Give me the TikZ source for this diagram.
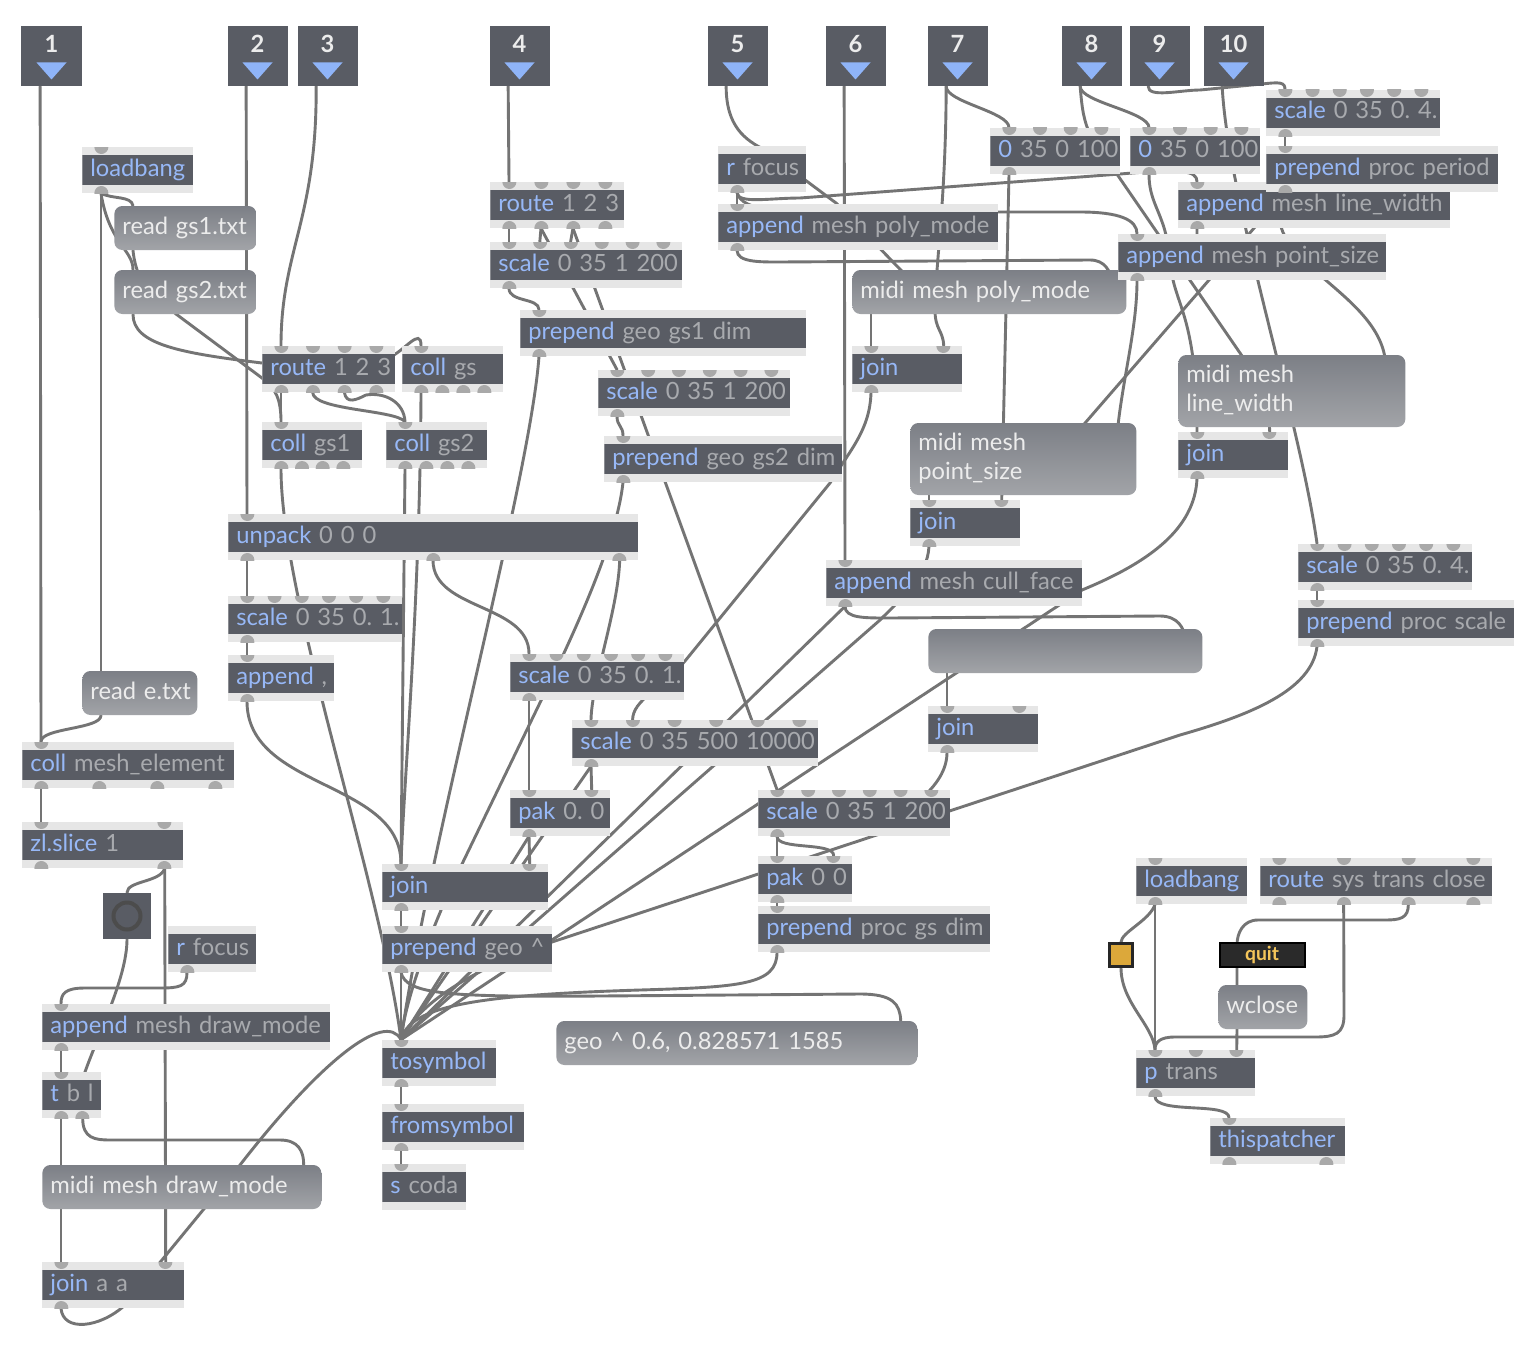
\documentclass[tikz,border=0pt]{standalone}
\usepackage{fontspec}
\setmainfont{Lato}[WordSpace=0.55]
\usetikzlibrary{calc, backgrounds}
\definecolor{objdark}{HTML}{595C64}
\definecolor{strip}{HTML}{E6E6E6}
\definecolor{objblue}{HTML}{97B8F7}
\definecolor{objgray}{HTML}{A8AAAE}
\definecolor{portgray}{HTML}{A9A9A9}
\definecolor{msgtop}{HTML}{7C7F86}
\definecolor{msgbot}{HTML}{A2A4A8}
\definecolor{msgtext}{HTML}{ECECEC}
\definecolor{cablegray}{HTML}{747474}
\definecolor{triblue}{HTML}{8FB4F8}
\definecolor{toggold}{HTML}{DCA83A}
\definecolor{quitbg}{HTML}{2A2A2A}
\definecolor{quittext}{HTML}{F4C55A}
\newcommand\objfont{\fontsize{13.5}{16.5}\selectfont\frenchspacing}
\newcommand\ob[1]{\textcolor{objblue}{#1}}
\newcommand\portrow[2]{%
  \ifnum#1>0
    \foreach \k in {1,...,#1}{%
      \ifnum#1=1 \def\portfr{0}\else\pgfmathsetmacro\portfr{(\k-1)/(#1-1)}\fi
      \fill[portgray] ($([xshift=3.8mm]path picture bounding box.#2 west)!\portfr!([xshift=-3.8mm]path picture bounding box.#2 east)$) circle (1.4mm);
    }%
  \fi}
\tikzset{
  oneline/.style={execute at begin node={\hbox to\hsize\bgroup}, execute at end node={\hfil\egroup}},
  obj/.style 2 args={fill=strip, anchor=west, minimum height=9.2mm,
    inner xsep=1.6mm, inner ysep=0pt, align=left, text=objgray, font=\objfont,
    text height=3.4mm, text depth=1mm, oneline,
    path picture={\fill[objdark] ([yshift=-1.6mm]path picture bounding box.north west)
      rectangle ([yshift=1.6mm]path picture bounding box.south east);
      \portrow{#1}{north}\portrow{#2}{south}}},
  bw/.code={\pgfmathsetlengthmacro\boxtw{#1*0.2mm-3.2mm}%
    \pgfkeysalso{/tikz/minimum width=#1*0.2mm, /tikz/text width/.expanded=\boxtw}},
  msgbase/.style={top color=msgtop, bottom color=msgbot, rounded corners=1.6mm,
    anchor=west, minimum height=8.8mm, inner xsep=1.6mm, inner ysep=0pt,
    align=left, text=msgtext, font=\objfont, text height=3.4mm, text depth=1mm},
  msg/.style={msgbase, oneline},
  twoline/.style={msgbase, minimum height=14.4mm, text depth=6.8mm},
  inbox/.style={fill=objdark, minimum size=12mm, inner sep=0pt, text=msgtext,
    font=\objfont\bfseries, text height=3.5mm, text depth=4.7mm,
    path picture={\fill[triblue] ([shift={(-3mm,-1.3mm)}]path picture bounding box.center)
      -- ([shift={(3mm,-1.3mm)}]path picture bounding box.center)
      -- ([yshift=-4.7mm]path picture bounding box.center) -- cycle;}},
  bangbox/.style={fill=objdark, minimum width=9.6mm, minimum height=9.2mm, inner sep=0pt,
    path picture={\draw[line width=0.8mm, black!70] (path picture bounding box.center) circle (2.7mm);}},
  togbox/.style={fill=toggold, draw=black!85, line width=0.5mm, minimum size=4.6mm, inner sep=0pt},
  quitbox/.style={fill=quitbg, draw=black, line width=0.4mm, minimum width=17mm,
    minimum height=4.8mm, inner sep=0pt, text=quittext, font=\fontsize{11}{12}\selectfont\bfseries},
  cable/.style={draw=cablegray, line width=0.58mm, line cap=round},
}

\begin{document}
\begin{tikzpicture}[x=0.2mm, y=-0.2mm]
  \useasboundingbox (0,0) rectangle (1538,1344);

  % inlets
  \foreach \n/\x in {1/51.5, 2/257.5, 3/327.5, 4/519.5, 5/737.5, 6/855.5, 7/957.5, 8/1091.5, 9/1159.5, 10/1233.5}
    \node[inbox] (in\n) at (\x,56) {\n};

  % left column
  \node[obj={1}{1}, bw=111] (lbA) at (82,170) {\ob{loadbang}};
  \node[msg, bw=142] (rdA) at (114,228) {read gs1.txt};
  \node[msg, bw=142] (rdB) at (114,292) {read gs2.txt};
  \node[obj={4}{4}, bw=133] (rtA) at (262,369) {\ob{route} 1 2 3};
  \node[obj={1}{4}, bw=101] (clGs) at (402,369) {\ob{coll} gs};
  \node[obj={1}{4}, bw=100] (clA) at (262,445) {\ob{coll} gs1};
  \node[obj={1}{4}, bw=101] (clB) at (386,445) {\ob{coll} gs2};
  \node[obj={1}{3}, bw=410] (unp) at (228,537) {\ob{unpack} 0 0 0};
  \node[obj={6}{1}, bw=174] (scA) at (228,619) {\ob{scale} 0 35 0. 1.};
  \node[obj={1}{1}, bw=106] (apC) at (228,678) {\ob{append} ,};
  \node[msg, bw=115] (rdE) at (82,693) {read e.txt};
  \node[obj={1}{4}, bw=212] (cme) at (22,765) {\ob{coll} mesh\_element};
  \node[obj={2}{2}, bw=161] (zls) at (22,845) {\ob{zl.slice} 1};
  \node[bangbox] (btn) at (127,916) {};
  \node[obj={0}{1}, bw=88] (rfA) at (168,949) {\ob{r} focus};
  \node[obj={1}{1}, bw=288] (apD) at (42,1027) {\ob{append} mesh draw\_mode};
  \node[obj={1}{2}, bw=59] (tbl) at (42,1095) {\ob{t} b l};
  \node[msg, bw=279] (mdD) at (42,1187) {midi mesh draw\_mode};
  \node[obj={2}{1}, bw=142] (jaa) at (42,1285) {\ob{join} a a};

  % middle column
  \node[obj={4}{4}, bw=134] (rtB) at (490,205) {\ob{route} 1 2 3};
  \node[obj={6}{1}, bw=192] (scB) at (490,265) {\ob{scale} 0 35 1 200};
  \node[obj={1}{1}, bw=286] (ppA) at (520,333) {\ob{prepend} geo gs1 dim};
  \node[obj={6}{1}, bw=192] (scC) at (598,393) {\ob{scale} 0 35 1 200};
  \node[obj={1}{1}, bw=238] (ppB) at (604,459) {\ob{prepend} geo gs2 dim};
  \node[obj={6}{1}, bw=174] (scM) at (510,677) {\ob{scale} 0 35 0. 1.};
  \node[obj={6}{1}, bw=246] (scK) at (572,743) {\ob{scale} 0 35 500 10000};
  \node[obj={2}{1}, bw=100] (pkA) at (510,813) {\ob{pak} 0. 0};
  \node[obj={2}{1}, bw=166] (jnG) at (382,887) {\ob{join}};
  \node[obj={1}{1}, bw=170] (ppG) at (382,949) {\ob{prepend} geo \textasciicircum};
  \node[obj={1}{1}, bw=114] (tsy) at (382,1063) {\ob{tosymbol}};
  \node[obj={1}{1}, bw=142] (fsy) at (382,1127) {\ob{fromsymbol}};
  \node[obj={1}{0}, bw=84] (sco) at (382,1187) {\ob{s} coda};
  \node[msg, bw=361] (geo) at (556,1043) {geo \textasciicircum{} 0.6, 0.828571 1585};
  \node[obj={6}{1}, bw=192] (scE) at (758,813) {\ob{scale} 0 35 1 200};
  \node[obj={2}{1}, bw=94] (pkB) at (758,879) {\ob{pak} 0 0};
  \node[obj={1}{1}, bw=232] (ppP) at (758,929) {\ob{prepend} proc gs dim};

  % right part
  \node[obj={0}{1}, bw=88] (rfB) at (718,169) {\ob{r} focus};
  \node[obj={1}{1}, bw=280] (apP) at (718,227) {\ob{append} mesh poly\_mode};
  \node[msg, bw=274] (mdP) at (852,292) {midi mesh poly\_mode};
  \node[obj={2}{1}, bw=110] (jnP) at (852,369) {\ob{join}};
  \node[twoline, bw=226] (mdS) at (910,459) {midi mesh\\point\_size};
  \node[obj={2}{1}, bw=110] (jnS) at (910,523) {\ob{join}};
  \node[obj={1}{1}, bw=256] (apF) at (826,583) {\ob{append} mesh cull\_face};
  \node[msg, bw=274] (mdX) at (928,651) {};
  \node[obj={2}{1}, bw=110] (jnF) at (928,729) {\ob{join}};
  \node[obj={4}{1}, bw=130] (scN1) at (990,151) {\ob{0} 35 0 100};
  \node[obj={4}{1}, bw=130] (scN2) at (1130,151) {\ob{0} 35 0 100};
  \node[obj={6}{1}, bw=174] (scT) at (1266,113) {\ob{scale} 0 35 0. 4.};
  \node[obj={1}{1}, bw=272] (apL) at (1178,205) {\ob{append} mesh line\_width};
  \node[obj={1}{1}, bw=232] (ppR) at (1266,169) {\ob{prepend} proc period};
  \node[obj={1}{1}, bw=268] (apS) at (1118,257) {\ob{append} mesh point\_size};
  \node[twoline, bw=227] (mdL) at (1178,391) {midi mesh\\line\_width};
  \node[obj={2}{1}, bw=110] (jnL) at (1178,455) {\ob{join}};
  \node[obj={6}{1}, bw=174] (scR) at (1298,567) {\ob{scale} 0 35 0. 4.};
  \node[obj={1}{1}, bw=216] (ppS) at (1298,623) {\ob{prepend} proc scale};

  % window handling
  \node[obj={1}{1}, bw=111] (lbB) at (1136,881) {\ob{loadbang}};
  \node[obj={4}{4}, bw=232] (rtS) at (1260,881) {\ob{route} sys trans close};
  \node[togbox] (tog) at (1121,955) {};
  \node[quitbox] (quit) at (1262,955) {quit};
  \node[msg, bw=89] (wcl) at (1218,1007) {wclose};
  \node[obj={3}{1}, bw=119] (ptr) at (1136,1073) {\ob{p} trans};
  \node[obj={1}{2}, bw=135] (thp) at (1210,1141) {\ob{thispatcher}};

  \begin{scope}[on background layer]
  \fill[white] (0,0) rectangle (1538,1344);
  % left column
  \draw[cable] ([xshift=3.8mm]in1.south west) -- ([xshift=3.8mm]cme.north west);
  \draw[cable] ([xshift=3.8mm]lbA.south west) -- ([xshift=3.8mm]rdE.north west);
  \draw[cable] ([xshift=3.8mm]rdE.south west) .. controls +(0,14) and +(0,-14) .. ([xshift=3.8mm]cme.north west);
  \draw[cable] ([xshift=3.8mm]lbA.south west) .. controls +(12,6) and +(-2,-10) .. ([xshift=3.8mm]rdA.north west);
  \draw[cable] ([xshift=3.8mm]lbA.south west) .. controls +(8,50) and +(0,-20) .. ([xshift=3.8mm]rdB.north west);
  \draw[cable] ([xshift=3.8mm]rdB.south west) .. controls +(0,30) and (180,353) .. (262,363) -- (388,358) .. controls (404,352) and (421,326) .. ([xshift=3.8mm]clGs.north west);
  \draw[cable] ([xshift=3.8mm]rdA.south west) .. controls +(4,40) and (160,300) .. (176,314) -- (262,378) .. controls (276,388) and (281,400) .. ([xshift=3.8mm]clA.north west);
  \draw[cable] ([xshift=3.8mm]in2.south west) -- ([xshift=3.8mm]unp.north west);
  \draw[cable] ([xshift=3.8mm]in3.south west) .. controls (317,220) and (281,250) .. ([xshift=3.8mm]rtA.north west);
  \draw[cable] ([xshift=3.8mm]rtA.south west) -- ([xshift=3.8mm]clA.north west);
  \draw[cable] ([xshift=10.13mm]rtA.south west) .. controls +(0,18) and +(-10,-12) .. ([xshift=3.8mm]clB.north west);
  \draw[cable] ([xshift=16.47mm]rtA.south west) .. controls +(2,12) and (356,400) .. (366,395) .. controls (385,392) and (404,402) .. ([xshift=3.8mm]clB.north west);
  \draw[cable] ([xshift=3.8mm]clGs.south west) .. controls (420,600) and (404,780) .. ([xshift=3.8mm]jnG.north west);
  \draw[cable] ([xshift=3.8mm]clB.south west) -- ([xshift=3.8mm]jnG.north west);
  \draw[cable] ([xshift=3.8mm]clA.south west) .. controls (281,600) and (380,880) .. ([xshift=3.8mm]tsy.north west);
  \draw[cable] ([xshift=3.8mm]unp.south west) -- ([xshift=3.8mm]scA.north west);
  \draw[cable] ([xshift=3.8mm]scA.south west) -- ([xshift=3.8mm]apC.north west);
  \draw[cable] ([xshift=3.8mm]apC.south west) .. controls (247,790) and (401,780) .. ([xshift=3.8mm]jnG.north west);
  \draw[cable] ([xshift=41mm]unp.south west) .. controls +(0,50) and +(0,-50) .. ([xshift=3.8mm]scM.north west);
  \draw[cable] ([xshift=-3.8mm]unp.south east) .. controls (618,610) and (592,680) .. ([xshift=3.8mm]scK.north west);
  \draw[cable] ([xshift=3.8mm]ppB.south west) .. controls (619,520) and (600,575) .. (564,653) -- (463,862) .. controls (432,925) and (405,1000) .. ([xshift=3.8mm]tsy.north west);
  \draw[cable] ([xshift=3.8mm]ppA.south west) .. controls (530,480) and (430,840) .. ([xshift=3.8mm]tsy.north west);
  % middle column
  \draw[cable] ([xshift=3.8mm]in4.south west) -- ([xshift=3.8mm]rtB.north west);
  \draw[cable] ([xshift=3.8mm]rtB.south west) -- ([xshift=3.8mm]scB.north west);
  \draw[cable] ([xshift=10.2mm]rtB.south west) -- ([xshift=9.96mm]scB.north west);
  \draw[cable] ([xshift=16.6mm]rtB.south west) -- ([xshift=16.12mm]scB.north west);
  \draw[cable] ([xshift=3.8mm]scB.south west) .. controls +(0,14) and +(0,-12) .. ([xshift=3.8mm]ppA.north west);
  \draw[cable] ([xshift=10.2mm]rtB.south west) -- ([xshift=3.8mm]scC.north west);
  \draw[cable] ([xshift=16.6mm]rtB.south west) -- ([xshift=3.8mm]scE.north west);
  \draw[cable] ([xshift=3.8mm]scC.south west) .. controls +(0,10) and +(0,-10) .. ([xshift=3.8mm]ppB.north west);
  \draw[cable] ([xshift=3.8mm]scM.south west) -- ([xshift=3.8mm]pkA.north west);
  \draw[cable] ([xshift=3.8mm]scK.south west) -- ([xshift=-3.8mm]pkA.north east);
  \draw[cable] ([xshift=3.8mm]scK.south west) -- ([xshift=3.8mm]tsy.north west);
  \draw[cable] ([xshift=3.8mm]pkA.south west) -- ([xshift=-3.8mm]jnG.north east);
  \draw[cable] ([xshift=3.8mm]pkA.south west) -- ([xshift=3.8mm]tsy.north west);
  \draw[cable] ([xshift=3.8mm]jnG.south west) -- ([xshift=3.8mm]ppG.north west);
  \draw[cable] ([xshift=3.8mm]ppG.south west) -- ([xshift=3.8mm]tsy.north west);
  \draw[cable] ([xshift=3.8mm]ppG.south west) .. controls (406,995) and (450,997) .. (600,996) -- (860,994) .. controls (893,994) and (900,1004) .. ([xshift=-3.4mm]geo.north east);
  \draw[cable] ([xshift=3.8mm]tsy.south west) -- ([xshift=3.8mm]fsy.north west);
  \draw[cable] ([xshift=3.8mm]fsy.south west) -- ([xshift=3.8mm]sco.north west);
  \draw[cable] ([xshift=3.8mm]ppP.south west) .. controls (777,985) and (740,987) .. (640,990) .. controls (480,995) and (410,1005) .. ([xshift=3.8mm]tsy.north west);
  % draw mode
  \draw[cable] ([xshift=3.8mm]cme.south west) -- ([xshift=3.8mm]zls.north west);
  \draw[cable] ([xshift=-3.8mm]zls.south east) .. controls +(-4,14) and +(0,-12) .. (btn.north);
  \draw[cable] ([xshift=-3.8mm]zls.south east) -- ([xshift=-3.8mm]jaa.north east);
  \draw[cable] (btn.south) .. controls +(0,40) and (95,1040) .. ([xshift=-4mm,yshift=-2mm]tbl.north east);
  \draw[cable] ([xshift=3.8mm]rfA.south west) .. controls +(0,14) and +(20,0) .. (160,988) -- (85,988) .. controls +(-20,0) and +(0,-10) .. ([xshift=3.8mm]apD.north west);
  \draw[cable] ([xshift=3.8mm]apD.south west) -- ([xshift=3.8mm]tbl.north west);
  \draw[cable] ([xshift=3.8mm]tbl.south west) -- ([xshift=3.8mm]jaa.north west);
  \draw[cable] ([xshift=-3.8mm]tbl.south east) .. controls +(0,20) and +(-15,0) .. (110,1140) -- (280,1140) .. controls +(18,0) and +(0,-14) .. ([xshift=-3.6mm]mdD.north east);
  \draw[cable] ([xshift=3.8mm]jaa.south west) .. controls +(2,24) and (100,1328) .. (125,1305) -- (240,1165) .. controls (320,1062) and (385,1010) .. ([xshift=3.8mm]tsy.north west);
  % mesh settings
  \draw[cable] ([xshift=3.8mm]in5.south west) .. controls +(0,40) and (745,140) .. (765,150) -- (836,203) -- ([xshift=14mm]mdP.west);
  \draw[cable] ([xshift=3.8mm]rfB.south west) -- ([xshift=3.8mm]apP.north west);
  \draw[cable] ([xshift=3.8mm]rfB.south west) .. controls +(0,12) and +(-30,0) .. (800,198) -- (1120,174) .. controls (1180,169) and (1197,170) .. ([xshift=3.8mm]apL.north west);
  \draw[cable] ([xshift=3.8mm]rfB.south west) .. controls +(4,20) and +(-30,0) .. (820,212) -- (1080,212) .. controls (1120,212) and (1137,220) .. ([xshift=3.8mm]apS.north west);
  \draw[cable] ([xshift=3.8mm]apP.south west) .. controls +(0,12) and +(-20,0) .. (780,262) -- (1090,260) .. controls +(15,0) and +(0,-8) .. ([xshift=-3.2mm,yshift=-2mm]mdP.north east);
  \draw[cable] ([xshift=3.8mm]mdP.south west) -- ([xshift=3.8mm]jnP.north west);
  \draw[cable] ([xshift=3.8mm]in7.south west) .. controls (946,200) and (935,270) .. (935,310) .. controls (935,330) and (943,330) .. ([xshift=-3.8mm]jnP.north east);
  \draw[cable] ([xshift=3.8mm]in7.south west) .. controls +(0,16) and +(0,-16) .. ([xshift=3.8mm]scN1.north west);
  \draw[cable] ([xshift=3.8mm]in8.south west) .. controls +(0,16) and +(0,-16) .. ([xshift=3.8mm]scN2.north west);
  \draw[cable] ([xshift=3.8mm]in9.south west) .. controls +(0,12) and +(-20,0) .. (1200,90) -- (1262,84) .. controls (1280,82) and (1285,82) .. ([xshift=3.8mm]scT.north west);
  \draw[cable] ([xshift=3.8mm]in10.south west) .. controls (1228,200) and (1300,420) .. ([xshift=3.8mm]scR.north west);
  \draw[cable] ([xshift=3.8mm]in8.south west) .. controls +(2,25) and (1084,120) .. (1090,135) -- (1240,353) .. controls (1262,385) and (1269,410) .. ([xshift=-3.8mm]jnL.north east);
  \draw[cable] ([xshift=3.8mm]scN1.south west) -- ([xshift=-3.8mm]jnS.north east);
  \draw[cable] ([xshift=3.8mm]scN2.south west) .. controls +(0,25) and (1160,210) .. (1166,235) -- (1173,280) .. controls (1180,310) and (1197,330) .. ([xshift=3.8mm]jnL.north west);
  \draw[cable] ([xshift=3.8mm]scT.south west) -- ([xshift=3.8mm]ppR.north west);
  \draw[cable] ([xshift=3.8mm]ppR.south west) .. controls (1250,260) and (1382,290) .. ([xshift=-4mm,yshift=-2mm]mdL.north east);
  \draw[cable] ([xshift=3.8mm]ppR.south west) -- ([xshift=-12mm,yshift=-2mm]mdS.north east);
  \draw[cable] ([xshift=3.8mm]apL.south west) -- ([xshift=15.8mm,yshift=-2mm]apS.north west);
  \draw[cable] ([xshift=3.8mm]apS.south west) .. controls (1137,330) and (1122,380) .. ([xshift=-4mm,yshift=-3mm]mdS.north east);
  \draw[cable] ([xshift=3.8mm]mdS.south west) -- ([xshift=3.8mm]jnS.north west);
  \draw[cable] ([xshift=3.8mm]in6.south west) -- ([xshift=3.8mm]apF.north west);
  \draw[cable] ([xshift=3.8mm]jnP.south west) .. controls (870,430) and (850,450) .. (830,483) -- (685,661) .. controls (660,690) and (633,700) .. ([xshift=12.12mm]scK.north west);
  \draw[cable] ([xshift=3.8mm]jnS.south west) .. controls +(-2,30) and (905,595) .. (880,620) -- ([xshift=3.8mm]tsy.north west);
  \draw[cable] ([xshift=3.8mm]apF.south west) .. controls +(0,12) and +(-25,0) .. (890,618) -- (1160,616) .. controls +(18,0) and +(0,-10) .. ([xshift=-3.6mm,yshift=-2mm]mdX.north east);
  \draw[cable] ([xshift=3.8mm]apF.south west) -- ([xshift=3.8mm]tsy.north west);
  \draw[cable] ([xshift=3.8mm]mdX.south west) -- ([xshift=3.8mm]jnF.north west);
  \draw[cable] ([xshift=3.8mm]jnF.south west) .. controls +(0,22) and +(10,-10) .. ([xshift=-6mm,yshift=-2mm]scE.north east);
  \draw[cable] ([xshift=3.8mm]jnL.south west) .. controls +(-2,50) and (1150,562) .. (1082,590) -- ([xshift=3.8mm]tsy.north west);
  \draw[cable] ([xshift=3.8mm]scR.south west) -- ([xshift=3.8mm]ppS.north west);
  \draw[cable] ([xshift=3.8mm]ppS.south west) .. controls +(-5,44) and (1250,715) .. (1180,735) -- (552,942) .. controls (480,966) and (420,1000) .. ([xshift=3.8mm]tsy.north west);
  \draw[cable] ([xshift=3.8mm]scE.south west) -- ([xshift=3.8mm]pkB.north west);
  \draw[cable] ([xshift=3.8mm]scE.south west) .. controls +(0,14) and +(0,-14) .. ([xshift=-3.8mm]pkB.north east);
  \draw[cable] ([xshift=3.8mm]pkB.south west) -- ([xshift=3.8mm]ppP.north west);
  % window handling
  \draw[cable] ([xshift=3.8mm]lbB.south west) .. controls +(-5,16) and +(0,-10) .. (tog.north);
  \draw[cable] (tog.south) .. controls +(0,35) and +(-2,-25) .. ([xshift=3.8mm]ptr.north west);
  \draw[cable] ([xshift=3.8mm]lbB.south west) -- ([xshift=3.8mm]ptr.north west);
  \draw[cable] ([xshift=16.73mm]rtS.south west) -- (1344,1015) .. controls (1344,1034) and (1335,1037) .. (1315,1037) -- (1175,1037) .. controls (1160,1037) and (1155,1042) .. ([xshift=3.8mm]ptr.north west);
  \draw[cable] ([xshift=29.67mm]rtS.south west) .. controls +(0,14) and +(15,0) .. (1385,920) -- (1258,920) .. controls +(-15,0) and +(0,-12) .. (1237,945) -- ([xshift=3.8mm,yshift=-2mm]wcl.north west);
  \draw[cable] ([xshift=3.8mm]wcl.south west) -- ([xshift=-3.8mm]ptr.north east);
  \draw[cable] ([xshift=3.8mm]ptr.south west) .. controls +(0,18) and +(0,-16) .. ([xshift=3.8mm]thp.north west);
  \end{scope}
\end{tikzpicture}
\end{document}
